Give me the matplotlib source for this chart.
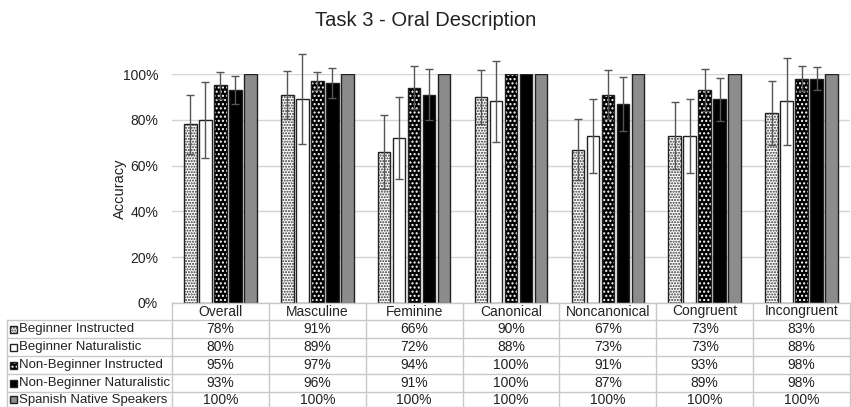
import numpy as np
import matplotlib.pyplot as plt
from matplotlib.patches import Rectangle
from matplotlib.transforms import blended_transform_factory

plt.rcParams['font.family'] = ['Liberation Sans', 'DejaVu Sans']
plt.rcParams['hatch.linewidth'] = 1.0

# Dados
categorias = ["Overall", "Masculine", "Feminine", "Canonical", "Noncanonical", "Congruent", "Incongruent"]
grupos = ["Beginner Instructed", "Beginner Naturalistic", "Non-Beginner Instructed",
          "Non-Beginner Naturalistic", "Spanish Native Speakers"]
beg_instr = [78, 91, 66, 90, 67, 73, 83]
beg_nat = [80, 89, 72, 88, 73, 73, 88]
nonbeg_instr = [95, 97, 94, 100, 91, 93, 98]
nonbeg_nat = [93, 96, 91, 100, 87, 89, 98]
nativos = [100, 100, 100, 100, 100, 100, 100]
# barras de erro (desvio), estimadas
err_beg_instr = [13, 10.5, 16, 11.7, 13.5, 14.6, 14]
err_beg_nat = [16.5, 19.7, 18, 17.7, 16.2, 16.2, 19]
err_nonbeg_instr = [6, 4, 9.5, 0, 10.6, 9, 5.6]
err_nonbeg_nat = [6, 6.5, 11, 0, 11.7, 9.4, 5]
err_nativos = [0, 0, 0, 0, 0, 0, 0]

series = [beg_instr, beg_nat, nonbeg_instr, nonbeg_nat, nativos]
erros = [err_beg_instr, err_beg_nat, err_nonbeg_instr, err_nonbeg_nat, err_nativos]
# estilos: (face, cor do hatch, hatch)
estilos = [("white", "#333333", "......"),
           ("white", None, None),
           ("black", "white", "...."),
           ("black", None, None),
           ("#8c8c8c", None, None)]

W, H = 851, 407
fig = plt.figure(figsize=(W / 100, H / 100), dpi=100)
ax_left, ax_right, ax_top, ax_bot = 172, 850, 74, 303
ax = fig.add_axes([ax_left / W, 1 - ax_bot / H, (ax_right - ax_left) / W, (ax_bot - ax_top) / H])

x = np.arange(len(categorias))
passo, larg = 0.155, 0.13
for k, (vals, errs, (fc, hc, hatch)) in enumerate(zip(series, erros, estilos)):
    pos = x + (k - 2) * passo
    v = np.array(vals) / 100
    if hatch:
        ax.bar(pos, v, larg, color=fc, edgecolor=hc, hatch=hatch, linewidth=0, zorder=2)
        ax.bar(pos, v, larg, fill=False, edgecolor="#222222", linewidth=1.0, zorder=3)
    else:
        ax.bar(pos, v, larg, color=fc, edgecolor="#222222", linewidth=1.0, zorder=3)
    e = np.array(errs) / 100
    m = e > 0
    ax.errorbar(pos[m], v[m], yerr=e[m], fmt="none", ecolor="#555555", elinewidth=1.0,
                capsize=3, capthick=1.0, zorder=4, clip_on=False)

ax.set_xlim(-0.5, len(categorias) - 0.5)
ax.set_ylim(0, 1.0)
ax.set_yticks(np.arange(0, 1.01, 0.2))
ax.set_yticklabels([f"{int(t * 100)}%" for t in np.arange(0, 1.01, 0.2)], fontsize=10, color="#222222")
ax.set_xticks([])
ax.tick_params(axis="y", length=0, pad=10)
ax.grid(axis="y", color="#d4d4d4", linewidth=1.0, zorder=0)
for s in ax.spines.values():
    s.set_visible(False)
ax.set_ylabel("Accuracy", fontsize=10.5, color="#222222")
ax.yaxis.set_label_coords(-0.066, 0.5)

fig.text(0.5, 1 - 20 / H, "Task 3 - Oral Description", ha="center", va="center",
         fontsize=14.5, color="#222222")

# Tabela
tr = blended_transform_factory(ax.transData, fig.transFigure)
fy = lambda py: 1 - py / H
fx = lambda px: px / W
lc = "#c8c8c8"
linhas_y = [303, 320, 338, 356, 374, 392, 407]
left_px = 7
fs_tab = 9.5

# linha do cabeçalho
fig.add_artist(plt.Line2D([fx(ax_left), fx(ax_right)], [fy(303), fy(303)], color=lc, lw=1))
for yy in linhas_y[1:]:
    fig.add_artist(plt.Line2D([fx(left_px), fx(ax_right)], [fy(yy), fy(yy)], color=lc, lw=1))
fig.add_artist(plt.Line2D([fx(left_px), fx(left_px)], [fy(320), fy(407)], color=lc, lw=1))
for i in range(len(categorias) + 1):
    fig.add_artist(plt.Line2D([i - 0.5, i - 0.5], [fy(303), fy(407)], color=lc, lw=1, transform=tr))

for i, cat in enumerate(categorias):
    yc = (linhas_y[0] + linhas_y[1]) / 2
    fig.text(i, fy(yc), cat, transform=tr, ha="center", va="center", fontsize=10, color="#222222")
    for k, vals in enumerate(series):
        yc = (linhas_y[k + 1] + linhas_y[k + 2]) / 2
        fig.text(i, fy(yc), f"{vals[i]}%", transform=tr, ha="center", va="center",
                 fontsize=10, color="#222222")

for k, (nome, (fc, hc, hatch)) in enumerate(zip(grupos, estilos)):
    yc = (linhas_y[k + 1] + linhas_y[k + 2]) / 2
    sq = 7
    if hatch:
        fig.add_artist(Rectangle((fx(10), fy(yc + sq / 2)), sq / W, sq / H, transform=fig.transFigure,
                                 facecolor=fc, edgecolor=hc, hatch=hatch, linewidth=0))
    fig.add_artist(Rectangle((fx(10), fy(yc + sq / 2)), sq / W, sq / H, transform=fig.transFigure,
                             facecolor=fc if not hatch else "none", edgecolor="#222222", linewidth=1))
    fig.text(fx(19), fy(yc), nome, ha="left", va="center", fontsize=fs_tab, color="#222222")

fig.savefig("out.png", dpi=100)
